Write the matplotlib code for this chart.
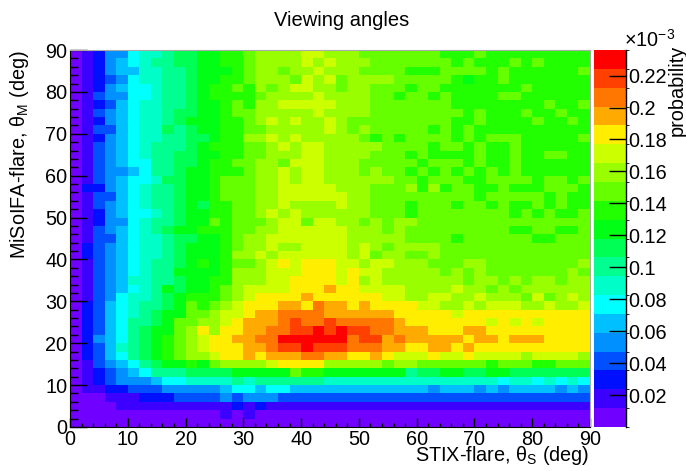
import numpy as np
import matplotlib
matplotlib.use('Agg')
import matplotlib.pyplot as plt
from matplotlib.colors import ListedColormap, BoundaryNorm

# 2 deg bins, 0..90 on both axes
bin_edges = list(range(0, 92, 2))

# colour level (0..19, written in base 20: 0-9 then a-j) of every cell,
# read off the picture; first string = top row (88-90 deg), last = bottom row
level_rows = [
    "01244677899aabb" "cddddeedddccccc" "ccbbbcbbbbbbbbb",
    "01245678899aabb" "cddddededddcccc" "cccbcbbbcbcbbbb",
    "01245577889aaab" "cddcddedddccccb" "bbccccbcbbbbbbc",
    "01234677889aabb" "cdddcedecddddcc" "cccbabbcbbbbbbb",
    "01245667889abbc" "bdcdeeddcddcccb" "ccbbbbbbbcbbbbb",
    "01344667889abbb" "bcddddeddddccbc" "cbcbbbbccbbbbbb",
    "01235677889aabc" "bddeeeeedddcccc" "cccbbbbbbbbcbbc",
    "01345677899aabc" "cdddddeddddcccc" "ccccbcbbbcbbcbb",
    "0124567789aaabb" "cdededdedcccccc" "cccbbcbbbbcbbcb",
    "01335677989aabb" "ccdddddedcdcccc" "cbcbcbbbbbbbbbb",
    "012456778899abb" "ddededddddcbcbc" "cccbcbcccbbbbbc",
    "01345678889abbb" "ccdedeedddddccc" "cbccbcbbcbbbbbb",
    "01345678899aabb" "ccdddeeddddcccb" "cbbbbcbbcbbccbb",
    "01345668899abbc" "cddceeedddccccc" "bcccbcbbcbbbbbb",
    "0134456889aabbb" "cddedeedddcdccb" "cbcbcbcbcbbbbbb",
    "0134566799aabcc" "cddedeeddddddcc" "bcccbbccccbccbc",
    "0224567889aabcc" "cddeeeeedddcccd" "bdbccbbcbbbcccb",
    "0133567889aabcc" "cddeeeeeeddcccc" "cccccbcccccbcbb",
    "0134567889a9bbc" "cddeddddeddcccb" "cccbccbcbbcbcbb",
    "0124566789aabbc" "cdededdddddcccb" "ccccccccbcbcbbc",
    "0124467889aacbc" "ccdeeceeddcdcdd" "ccccccccccccccc",
    "013456789aabbbc" "cddeeeeeedddcdc" "ccccccccbbccbbc",
    "01335677899aabc" "ddeeeeeeedddddc" "cccbccccccbbccc",
    "0234567789aaabc" "ddeddeeeededcdd" "ddccccccccccccc",
    "0234567789aaabd" "dedeeeeeedecddc" "cdccccccccccccc",
    "0134567889ababc" "cdefefffeedeedd" "dcccddccccccccd",
    "013456788aaaabd" "ddeeefffefeeddd" "ddcdcdcccccccdc",
    "0134577889aabbd" "ddeeffffefdeddd" "ddddcddcdcddcdd",
    "01345678a9aabcd" "eeeefffgffeeeed" "dddeddcdcdddddd",
    "013467789abbbcd" "effffgffffffeed" "deeddedddcecded",
    "023567889acbcde" "fffggfhggfgffff" "eeddedeeeddedde",
    "02356789aaccdee" "fgghhhhggggggff" "fffefffffffffff",
    "02356889accddef" "ggghihhihhhhhgf" "ffffffefefeffff",
    "0235689aacdfdff" "gghhiijijiihhgg" "gfffggfffffffff",
    "0245689abcdeffg" "ghhjjjjjjhiighg" "ggggfggfgggffff",
    "0235789abcdefff" "gghiijiiihhhggf" "fggfgffffffffff",
    "0235689abcddeff" "gfggghhggffgfee" "efeefeeeedeeeed",
    "01345689aabacdd" "ddeffffdddddcdd" "ccccccbcccbbccc",
    "01234568889999a" "aaaacbbaaaaaaa8" "99aa99aa9999999",
    "012344456677778" "788888877777777" "777777767767676",
    "011223334444456" "656655555555555" "545554545555454",
    "000111222333343" "444333333333333" "333333333333333",
    "000011111111112" "121111111111111" "111111111111111",
    "000000000000010" "100000000000000" "000000000000000",
    "000000000000000" "000000000000000" "000000000000000",
]

z_max = 0.236      # top of the palette (x 1e-3)
n_levels = 20
cbar_ticks = [0.02, 0.04, 0.06, 0.08, 0.10, 0.12, 0.14, 0.16, 0.18, 0.20, 0.22]
cbar_labels = ['0.02', '0.04', '0.06', '0.08', '0.1', '0.12', '0.14', '0.16', '0.18', '0.2', '0.22']
axis_ticks = [0, 10, 20, 30, 40, 50, 60, 70, 80, 90]

palette = ['#7000ff', '#3c00ff', '#0010ff', '#0050ff', '#0090ff',
           '#00c0ff', '#00ffff', '#00ffc8', '#00ff90', '#00ff55',
           '#00ff14', '#22ff00', '#66ff00', '#99ff00', '#ccff00',
           '#ffee00', '#ffaa00', '#ff7700', '#ff4000', '#ff0000']

plt.rcParams['font.family'] = ['Liberation Sans', 'DejaVu Sans']
plt.rcParams['mathtext.fontset'] = 'custom'
plt.rcParams['mathtext.rm'] = 'Liberation Sans'
plt.rcParams['mathtext.it'] = 'Liberation Sans'
plt.rcParams['font.size'] = 14.3

levels_grid = np.array([[int(c, 20) for c in row] for row in level_rows[::-1]])
prob = (levels_grid + 0.5) * z_max / n_levels

cmap = ListedColormap(palette)
norm = BoundaryNorm(np.linspace(0, z_max, n_levels + 1), cmap.N)

W, H = 686, 471
fig = plt.figure(figsize=(W / 100, H / 100), dpi=100)
ax = fig.add_axes([70 / W, 44 / H, 520 / W, 377 / H])
mesh = ax.pcolormesh(bin_edges, bin_edges, prob, cmap=cmap, norm=norm)
ax.set_xlim(0, 90)
ax.set_ylim(0, 90)
ax.set_xticks(axis_ticks)
ax.set_yticks(axis_ticks)
ax.set_xticks(bin_edges, minor=True)
ax.set_yticks(bin_edges, minor=True)
ax.tick_params(which='both', direction='in', top=False, right=False, width=1)
ax.tick_params(axis='y', which='major', length=12, pad=2)
ax.tick_params(axis='y', which='minor', length=5.5)
ax.tick_params(axis='x', which='major', length=6.5, pad=2.5)
ax.tick_params(axis='x', which='minor', length=3.2)
for s in ['top', 'right']:
    ax.spines[s].set_color('#aaaaaa')
    ax.spines[s].set_linewidth(0.8)

# palette axis
cax = fig.add_axes([594 / W, 44 / H, 32 / W, 377 / H])
cb = fig.colorbar(mesh, cax=cax, ticks=cbar_ticks)
cb.set_ticklabels(cbar_labels)
cb.outline.set_linewidth(0)
cax.tick_params(direction='in', length=12, width=1, pad=1.5, right=True, left=False)
cax.plot([1, 1], [0, 1], transform=cax.transAxes, color='black', lw=1, clip_on=False)

fig.text(342 / W, 1 - 26 / H, 'Viewing angles', ha='center', va='baseline', fontsize=14.5)
fig.text(589 / W, 1 - 461 / H, r'STIX-flare, θ$_{\mathrm{S}}$ (deg)', ha='right', va='baseline')
fig.text(20 / W, 1 - 50 / H, r'MiSoIFA-flare, θ$_{\mathrm{M}}$ (deg)', rotation=90,
         ha='center', va='top')
fig.text(624 / W, 1 - 47 / H, r'×10$^{-3}$', ha='left', va='baseline')
fig.text(677 / W, 1 - 45 / H, 'probability', rotation=90, ha='center', va='top')

plt.savefig('out.png', dpi=100)
